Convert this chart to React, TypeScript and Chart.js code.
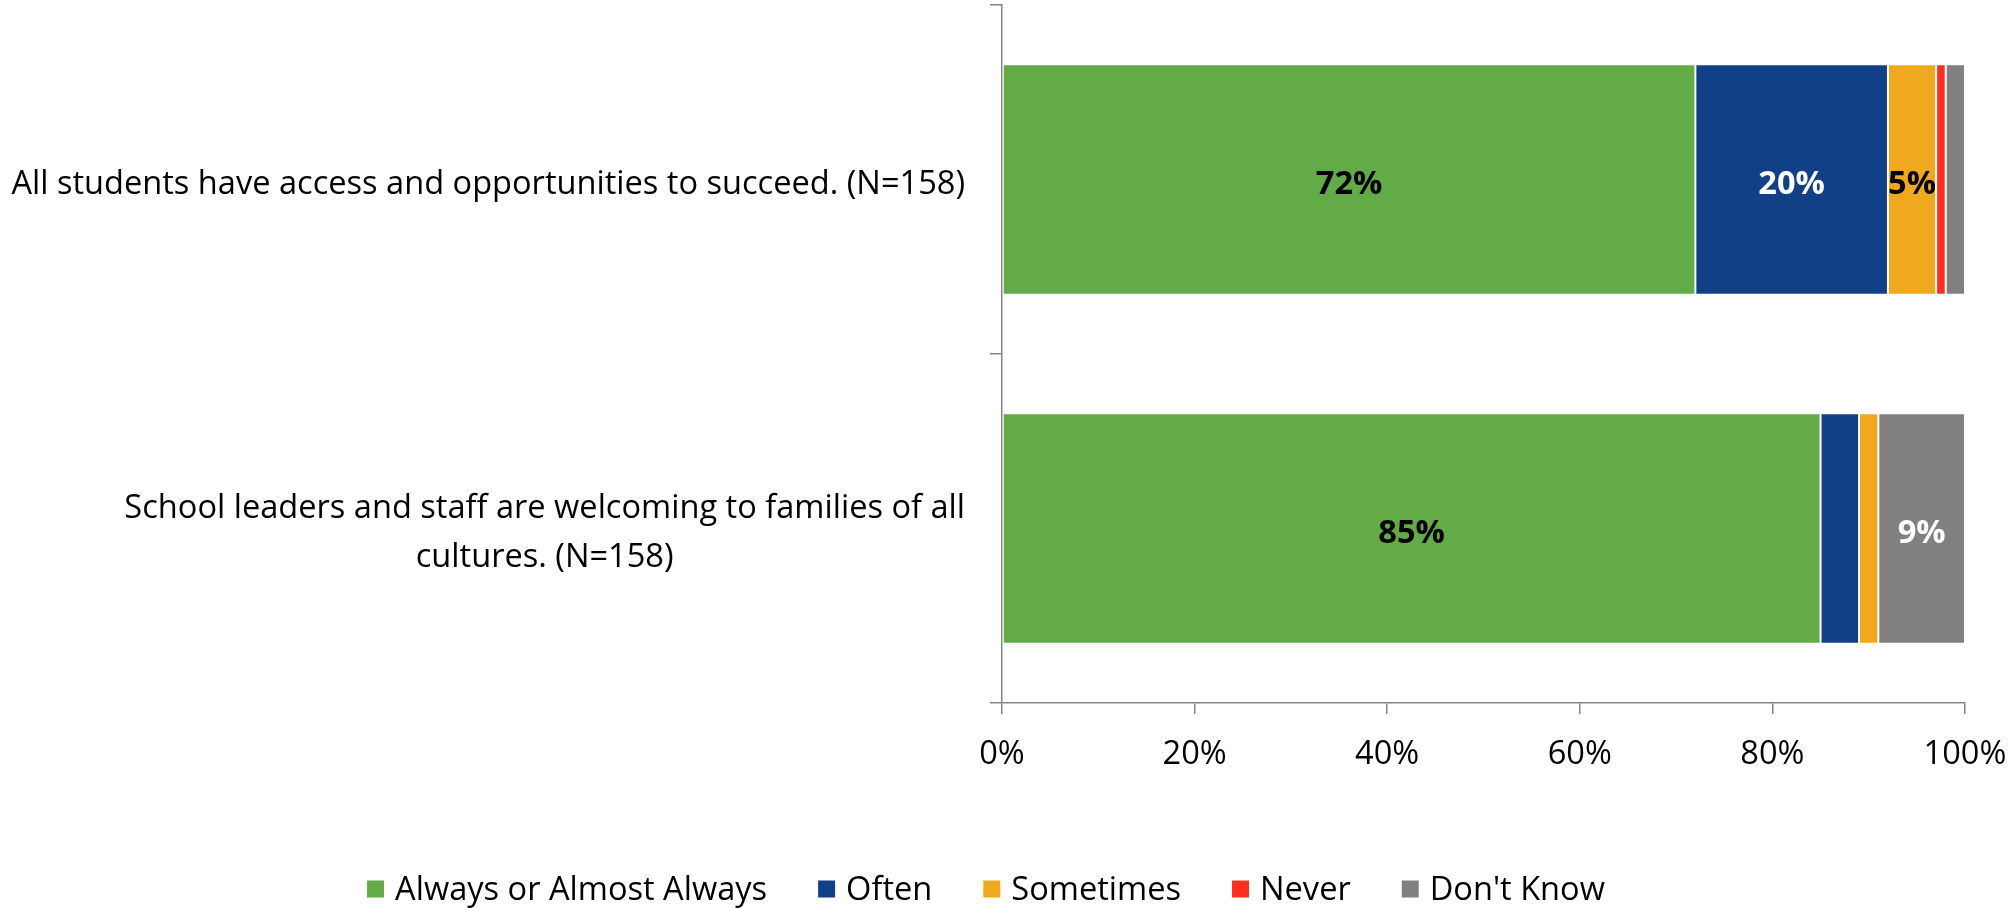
import React, { useEffect, useRef } from "react";
import { Chart, registerables } from "chart.js";

Chart.register(...registerables);

// ---- data ----
const categories: string[][] = [
  ["All students have access and opportunities to succeed. (N=158)"],
  ["School leaders and staff are welcoming to families of all", "cultures. (N=158)"],
];
const seriesNames = ["Always or Almost Always", "Often", "Sometimes", "Never", "Don't Know"];
const alwaysValues = [72, 85];
const oftenValues = [20, 4];
const sometimesValues = [5, 2];
const neverValues = [1, 0];
const dontKnowValues = [2, 9];
const xTickValues = [0, 20, 40, 60, 80, 100];

const seriesColors = ["#62AB46", "#124087", "#F0A91E", "#FC2F21", "#808080"];
const labelColors = ["#000000", "#FFFFFF", "#000000", "#000000", "#FFFFFF"];
const FAMILY = "'Open Sans', 'Noto Sans', sans-serif";

function fitFontSize(): number {
  const ctx = document.createElement("canvas").getContext("2d")!;
  ctx.font = `36px ${FAMILY}`;
  const w = ctx.measureText(categories[0][0]).width;
  return (36 * 954) / w;
}

export default function App() {
  const ref = useRef<HTMLCanvasElement | null>(null);

  useEffect(() => {
    if (!ref.current) return;
    const fs = fitFontSize();
    const seriesValues = [alwaysValues, oftenValues, sometimesValues, neverValues, dontKnowValues];

    const overlay = {
      id: "overlay",
      afterDraw(chart: any) {
        const ctx = chart.ctx as CanvasRenderingContext2D;
        const ys = chart.scales.y;
        ctx.save();
        // category labels
        ctx.font = `${fs}px ${FAMILY}`;
        ctx.fillStyle = "#000";
        ctx.textBaseline = "middle";
        ctx.textAlign = "center";
        const lineH = 49;
        categories.forEach((lines, i) => {
          const cy = ys.getPixelForValue(i) + 5;
          const maxW = Math.max(...lines.map((l) => ctx.measureText(l).width));
          const cx = chart.chartArea.left - 37 - maxW / 2;
          const y0 = cy - ((lines.length - 1) * lineH) / 2;
          lines.forEach((l, j) => ctx.fillText(l, cx, y0 + j * lineH));
        });
        // data labels
        ctx.font = `bold ${fs}px ${FAMILY}`;
        chart.data.datasets.forEach((ds: any, di: number) => {
          const meta = chart.getDatasetMeta(di);
          meta.data.forEach((el: any, i: number) => {
            const v = ds.data[i];
            if (v < 5) return;
            ctx.fillStyle = labelColors[di];
            ctx.fillText(`${v}%`, (el.x + el.base) / 2, el.y + 5);
          });
        });
        // legend
        ctx.font = `${fs}px ${FAMILY}`;
        ctx.textAlign = "left";
        const box = 17;
        const gapText = 11;
        const gapItem = 51;
        const widths = seriesNames.map((n) => ctx.measureText(n).width);
        const total =
          widths.reduce((a, b) => a + b, 0) + seriesNames.length * (box + gapText) + (seriesNames.length - 1) * gapItem;
        let x = 986 - total / 2;
        const ly = 889;
        seriesNames.forEach((n, i) => {
          ctx.fillStyle = seriesColors[i];
          ctx.fillRect(x, ly - box / 2, box, box);
          x += box + gapText;
          ctx.fillStyle = "#000";
          ctx.fillText(n, x, ly + 2);
          x += widths[i] + gapItem;
        });
        ctx.restore();
      },
    };

    const chart = new Chart(ref.current, {
      type: "bar",
      data: {
        labels: categories.map((c) => c.join(" ")),
        datasets: seriesNames.map((name, i) => ({
          label: name,
          data: seriesValues[i],
          backgroundColor: seriesColors[i],
          borderColor: "#FFFFFF",
          borderWidth: 1,
          borderSkipped: false,
          barPercentage: 0.66,
          categoryPercentage: 1,
        })),
      },
      options: {
        indexAxis: "y",
        responsive: false,
        maintainAspectRatio: false,
        animation: false,
        layout: { padding: { top: 5, right: 50, left: 0, bottom: 0 } },
        plugins: { legend: { display: false }, tooltip: { enabled: false } },
        scales: {
          x: {
            stacked: true,
            min: 0,
            max: 100,
            afterBuildTicks: (s: any) => {
              s.ticks = xTickValues.map((v) => ({ value: v }));
            },
            afterFit: (s: any) => {
              s.height = 205;
              s.paddingLeft = 0;
              s.paddingRight = 0;
            },
            ticks: {
              color: "#000",
              font: { family: FAMILY, size: fs },
              padding: 21,
              callback: (v: any) => `${v}%`,
              maxRotation: 0,
            },
            grid: { drawOnChartArea: false, tickLength: 11, color: "#868686", lineWidth: 1.5 },
            border: { color: "#868686", width: 1.5 },
          },
          y: {
            stacked: true,
            ticks: { display: false },
            afterFit: (s: any) => {
              s.width = 1002;
            },
            grid: { drawOnChartArea: false, tickLength: 12, color: "#868686", lineWidth: 1.5, offset: true },
            border: { color: "#868686", width: 1.5 },
          },
        },
      },
      plugins: [overlay],
    } as any);
    return () => chart.destroy();
  }, []);

  return (
    <div style={{ position: "fixed", left: 0, top: 0, width: 2015, height: 908, background: "#fff" }}>
      <canvas ref={ref} width={2015} height={908} style={{ display: "block", width: 2015, height: 908 }} />
    </div>
  );
}
